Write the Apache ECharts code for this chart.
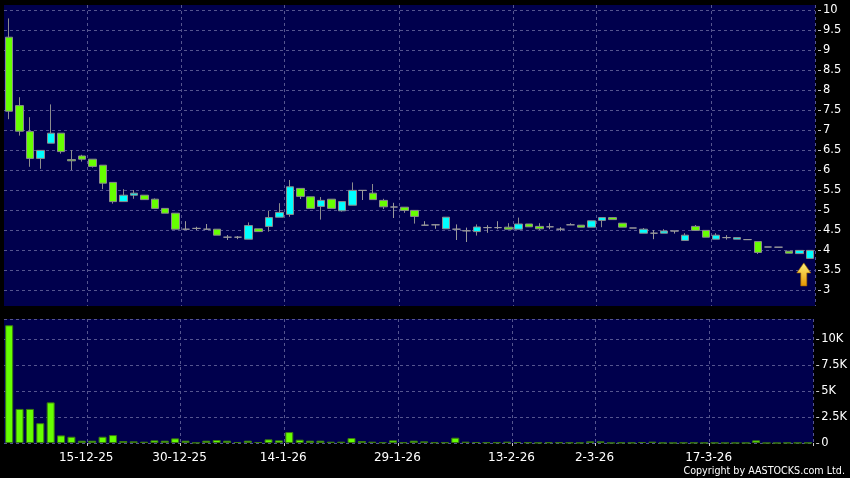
<!DOCTYPE html>
<html>
<head>
<meta charset="utf-8">
<script src="https://cdn.jsdelivr.net/npm/echarts@6/dist/echarts.min.js"></script>
<style>
html,body{margin:0;padding:0;background:#000;}
#chart{width:850px;height:478px;}
</style>
</head>
<body>
<div id="chart"></div>
<script>
// Trading dates (d-m-yy)
const dates = [
  '3-12-25','4-12-25','5-12-25','8-12-25','9-12-25','10-12-25','11-12-25','12-12-25',
  '15-12-25','16-12-25','17-12-25','18-12-25','19-12-25','22-12-25','23-12-25','24-12-25',
  '29-12-25','30-12-25','31-12-25','2-1-26','5-1-26','6-1-26','7-1-26','8-1-26','9-1-26',
  '12-1-26','13-1-26','14-1-26','15-1-26','16-1-26','19-1-26','20-1-26','21-1-26','22-1-26',
  '23-1-26','26-1-26','27-1-26','28-1-26','29-1-26','30-1-26','2-2-26','3-2-26','4-2-26',
  '5-2-26','6-2-26','9-2-26','10-2-26','11-2-26','12-2-26','13-2-26','16-2-26','20-2-26',
  '23-2-26','24-2-26','25-2-26','26-2-26','27-2-26','2-3-26','3-3-26','4-3-26','5-3-26',
  '6-3-26','9-3-26','10-3-26','11-3-26','12-3-26','13-3-26','16-3-26','17-3-26','18-3-26',
  '19-3-26','20-3-26','23-3-26','24-3-26','25-3-26','26-3-26','27-3-26','30-3-26'
];
const shownDates = ['15-12-25','30-12-25','14-1-26','29-1-26','13-2-26','2-3-26','17-3-26'];

const opens  = [9.32,7.61,6.96,6.29,6.67,6.92,6.26,6.35,6.27,6.12,5.69,5.21,5.37,5.37,5.27,5.04,4.92,4.52,4.54,4.52,
                4.52,4.32,4.32,4.27,4.53,4.59,4.82,4.89,5.54,5.33,5.09,5.27,4.98,5.12,5.49,5.42,5.24,5.075,5.07,4.99,
                4.62,4.63,4.53,4.52,4.48,4.46,4.56,4.56,4.57,4.52,4.65,4.59,4.58,4.52,4.63,4.62,4.57,4.74,4.81,4.67,
                4.55,4.42,4.42,4.42,4.475,4.24,4.59,4.49,4.27,4.31,4.27,4.26,4.21,4.075,4.07,3.97,3.91,3.79];
const closes = [7.47,6.97,6.29,6.49,6.92,6.46,6.23,6.27,6.09,5.67,5.21,5.37,5.42,5.26,5.04,4.92,4.52,4.52,4.54,4.52,
                4.37,4.32,4.32,4.61,4.46,4.81,4.94,5.58,5.34,5.04,5.24,5.04,5.21,5.49,5.49,5.26,5.08,5.075,4.99,4.84,
                4.62,4.63,4.82,4.52,4.48,4.575,4.56,4.56,4.52,4.65,4.58,4.53,4.58,4.52,4.63,4.57,4.73,4.81,4.76,4.57,
                4.55,4.52,4.42,4.475,4.475,4.37,4.49,4.32,4.37,4.31,4.31,4.26,3.94,4.075,4.07,3.92,3.99,3.99];
const lows   = [7.27,6.86,6.08,6.03,6.67,6.41,6.0,6.21,6.06,5.52,5.16,5.21,5.28,5.26,5.04,4.92,4.52,4.52,4.5,4.52,
                4.37,4.25,4.27,4.27,4.46,4.46,4.82,4.83,5.275,5.04,4.76,5.04,4.96,5.12,5.25,5.26,5.025,4.8,4.93,4.66,
                4.62,4.53,4.53,4.25,4.2,4.36,4.43,4.52,4.52,4.52,4.58,4.5,4.52,4.47,4.63,4.57,4.57,4.57,4.76,4.57,
                4.55,4.42,4.27,4.42,4.41,4.24,4.49,4.32,4.27,4.26,4.27,4.26,3.9,4.075,4.07,3.92,3.91,3.79];
const highs  = [9.79,7.82,7.32,6.49,7.64,6.92,6.5,6.38,6.27,6.12,5.69,5.52,5.5,5.37,5.29,5.04,4.92,4.72,4.58,4.65,
                4.52,4.375,4.35,4.69,4.53,4.975,5.17,5.75,5.54,5.33,5.325,5.27,5.21,5.69,5.49,5.65,5.28,5.18,5.07,4.99,
                4.72,4.63,4.82,4.64,4.56,4.64,4.62,4.72,4.67,4.81,4.65,4.67,4.67,4.57,4.67,4.62,4.73,4.81,4.81,4.67,
                4.55,4.55,4.5,4.52,4.475,4.42,4.625,4.49,4.42,4.37,4.31,4.26,4.21,4.075,4.07,3.97,3.99,3.99];
const volumes = [11300,3270,3270,1900,3900,730,600,220,220,600,760,190,160,127,254,222,444,222,30,222,
                 286,222,95,222,95,350,254,1048,317,222,222,127,127,476,190,127,63,254,63,222,
                 159,63,63,508,127,95,63,63,127,95,63,32,60,60,40,20,159,159,10,40,
                 30,95,127,20,10,30,30,20,20,10,10,10,254,0,0,20,20,20];

const priceTicks = [3,3.5,4,4.5,5,5.5,6,6.5,7,7.5,8,8.5,9,9.5,10];

const candleData = opens.map((o, i) => [o, closes[i], lows[i], highs[i]]);
const shownIdx = new Set(shownDates.map(d => dates.indexOf(d)));
const showFn = (i) => shownIdx.has(i);

const gridLine = { show: true, interval: showFn, lineStyle: { color: '#55558f', type: [3, 3], width: 1 } };
const ySplit = { show: true, lineStyle: { color: '#55558f', type: [3, 3], width: 1 } };
const font = 'DejaVu Sans';

const chart = echarts.init(document.getElementById('chart'), null, { renderer: 'canvas' });
chart.setOption({
  animation: false,
  backgroundColor: '#000000',
  grid: [
    { left: 4, right: 35, top: 5, height: 301, show: true, backgroundColor: '#00004d', borderWidth: 0 },
    { left: 4, right: 35, top: 319, height: 124, show: true, backgroundColor: '#00004d', borderWidth: 0 }
  ],
  xAxis: [
    { type: 'category', gridIndex: 0, data: dates, boundaryGap: true,
      axisLine: { show: false }, axisTick: { show: false }, axisLabel: { show: false },
      splitLine: gridLine },
    { type: 'category', gridIndex: 1, data: dates, boundaryGap: true, offset: 3,
      axisLine: { show: false },
      axisTick: { show: true, interval: showFn, length: 3, lineStyle: { color: '#cccccc' } },
      axisLabel: { show: true, interval: showFn, color: '#ffffff', fontSize: 12, fontFamily: font,
                   margin: 6, padding: [0, 12, 0, 0] },
      splitLine: gridLine }
  ],
  yAxis: [
    { type: 'value', gridIndex: 0, position: 'right', min: 2.6, max: 10.125, offset: 3,
      axisLine: { show: false },
      axisTick: { show: true, length: 3, customValues: priceTicks, lineStyle: { color: '#cccccc' } },
      axisLabel: { show: true, customValues: priceTicks, color: '#ffffff', fontSize: 11.5, fontFamily: font, margin: 5 },
      splitLine: ySplit },
    { type: 'value', gridIndex: 1, position: 'right', min: 0, max: 11900, interval: 2500, offset: 3,
      axisLine: { show: false },
      axisTick: { show: true, length: 3, lineStyle: { color: '#cccccc' } },
      axisLabel: { show: true, color: '#ffffff', fontSize: 11.5, fontFamily: font, margin: 5,
                   showMaxLabel: false,
                   formatter: v => v === 0 ? '0' : (v / 1000) + 'K' },
      splitLine: ySplit }
  ],
  series: [
    { type: 'candlestick', xAxisIndex: 0, yAxisIndex: 0, data: candleData, barWidth: 8,
      itemStyle: { color: '#00ffff', color0: '#66ff00', borderColor: '#8c8c8c', borderColor0: '#8c8c8c',
                   borderColorDoji: '#9a9a9a', borderWidth: 1 },
      markPoint: {
        silent: true,
        data: [{
          coord: [dates[dates.length - 1], lows[lows.length - 1]],
          symbol: 'path://M7,0 L14,10 L10,10 L10,23 L4,23 L4,10 L0,10 Z',
          symbolSize: [14, 23], symbolKeepAspect: false, symbolOffset: [-6, 16],
          itemStyle: { color: { type: 'linear', x: 0, y: 0, x2: 0, y2: 1,
                                 colorStops: [{ offset: 0, color: '#fff27a' }, { offset: 1, color: '#e39400' }] },
                       borderColor: '#a86a00', borderWidth: 0.6 },
          label: { show: false }
        }]
      } },
    { type: 'bar', xAxisIndex: 1, yAxisIndex: 1, data: volumes, barWidth: 8,
      itemStyle: { color: '#66ff00', borderColor: '#3a7a10', borderWidth: 1 } }
  ],
  graphic: [
    { type: 'text', right: 5, bottom: 2,
      style: { text: 'Copyright by AASTOCKS.com Ltd.', fill: '#ffffff', font: '9.6px "DejaVu Sans"' } }
  ]
});
</script>
</body>
</html>
